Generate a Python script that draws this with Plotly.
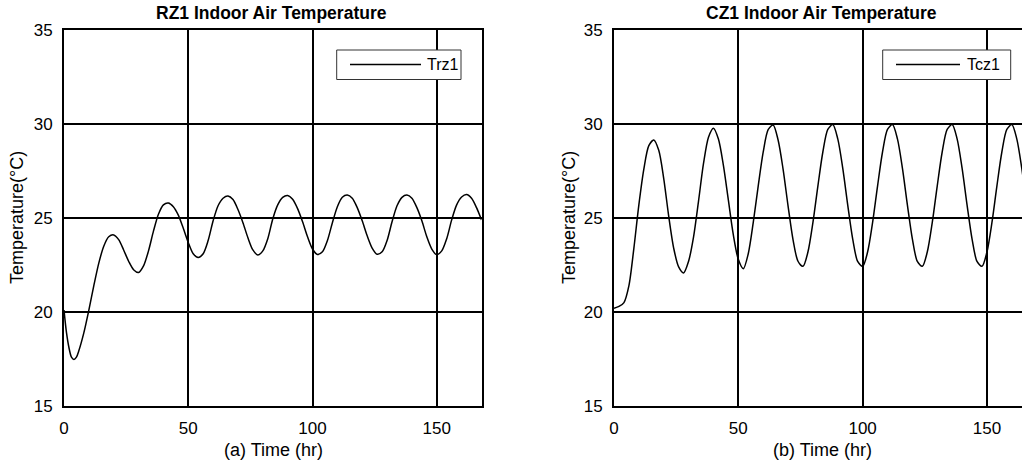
import plotly.graph_objects as go

# ---------------- data ----------------
time_rz = [0, 1, 2, 3, 4, 5, 6, 8, 10, 12, 14, 16, 18, 20, 22, 24, 26, 28, 30, 32,
           34, 36, 38, 40, 42, 44, 46, 48, 50, 52, 54, 56, 58, 60, 62, 64, 66, 68,
           70, 72, 74, 76, 78, 80, 82, 84, 86, 88, 90, 92, 94, 96, 98, 100, 102,
           104, 106, 108, 110, 112, 114, 116, 118, 120, 122, 124, 126, 128, 130,
           132, 134, 136, 138, 140, 142, 144, 146, 148, 150, 152, 154, 156, 158,
           160, 162, 164, 166, 168]
trz1 = [20.1, 18.9, 18.1, 17.6, 17.48, 17.6, 17.95, 18.9, 20.1, 21.4, 22.6, 23.5,
        24.0, 24.1, 23.85, 23.3, 22.7, 22.25, 22.1, 22.45, 23.25, 24.3, 25.2, 25.7,
        25.8, 25.6, 25.15, 24.45, 23.7, 23.1, 22.9, 23.1, 23.8, 24.85, 25.65, 26.05,
        26.17, 25.98, 25.45, 24.75, 23.95, 23.3, 23.03, 23.25, 23.9, 24.95, 25.7,
        26.1, 26.2, 26.0, 25.5, 24.8, 24.0, 23.35, 23.06, 23.2, 23.8, 24.75, 25.6,
        26.1, 26.22, 26.05, 25.55, 24.85, 24.05, 23.4, 23.07, 23.2, 23.8, 24.8,
        25.65, 26.1, 26.22, 26.05, 25.55, 24.85, 24.0, 23.35, 23.05, 23.25, 23.9,
        24.9, 25.7, 26.12, 26.25, 26.05, 25.55, 24.9]

time_cz = [0, 2, 4, 6, 8, 10, 12, 14, 16, 18, 20, 22, 24, 26, 28, 30, 32, 34, 36,
           38, 40, 42, 44, 46, 48, 50, 52, 54, 56, 58, 60, 62, 64, 66, 68, 70, 72,
           74, 76, 78, 80, 82, 84, 86, 88, 90, 92, 94, 96, 98, 100, 102, 104, 106,
           108, 110, 112, 114, 116, 118, 120, 122, 124, 126, 128, 130, 132, 134,
           136, 138, 140, 142, 144, 146, 148, 150, 152, 154, 156, 158, 160, 162,
           164, 166, 168]
tcz1 = [20.2, 20.3, 20.5, 21.4, 23.4, 25.7, 27.6, 28.85, 29.15, 28.6, 27.1, 25.1,
        23.4, 22.4, 22.08, 22.7, 24.0, 25.9, 27.9, 29.3, 29.78, 29.2, 27.8, 25.95,
        24.1, 22.8, 22.3, 23.1, 24.75, 26.7, 28.5, 29.7, 29.95, 29.15, 27.6, 25.65,
        23.85, 22.7, 22.43, 23.19, 24.75, 26.7, 28.51, 29.71, 29.97, 29.21, 27.65,
        25.7, 23.89, 22.69, 22.43, 23.19, 24.75, 26.7, 28.51, 29.71, 29.97, 29.21,
        27.65, 25.7, 23.89, 22.69, 22.43, 23.19, 24.75, 26.7, 28.51, 29.71, 29.97,
        29.21, 27.65, 25.7, 23.89, 22.69, 22.43, 23.19, 24.75, 26.7, 28.51, 29.71,
        29.97, 29.21, 27.65, 25.7, 23.89]

x_ticks = [0, 50, 100, 150]
y_ticks = [15, 20, 25, 30, 35]
titles = ["RZ1 Indoor Air Temperature", "CZ1 Indoor Air Temperature"]
x_titles = ["(a) Time (hr)", "(b) Time (hr)"]
y_title = "Temperature(°C)"
legend_names = ["Trz1", "Tcz1"]

# ---------------- figure ----------------
W, H = 1022, 463
FONT = "Arial, 'Liberation Sans', sans-serif"


def px(x):
    return x / W


def py(y):
    return 1 - y / H


fig = go.Figure()
line_style = dict(color="black", width=1.5, shape="spline", smoothing=0.8)
fig.add_trace(go.Scatter(x=time_rz, y=trz1, mode="lines", line=line_style,
                         name=legend_names[0], xaxis="x", yaxis="y", showlegend=False))
fig.add_trace(go.Scatter(x=time_cz, y=tcz1, mode="lines", line=line_style,
                         name=legend_names[1], xaxis="x2", yaxis="y2", showlegend=False))

common = dict(showline=True, linecolor="black", linewidth=2, showgrid=True,
              gridcolor="black", gridwidth=1.5, zeroline=False, ticks="",
              automargin=False, ticklabelstandoff=6,
              tickfont=dict(size=17, color="black", family=FONT))

ydom = [py(406), py(30)]
fig.update_layout(
    width=W, height=H, autosize=False,
    margin=dict(l=0, r=0, t=0, b=0, pad=0, autoexpand=False),
    paper_bgcolor="white", plot_bgcolor="white",
    font=dict(family=FONT, color="black"),
    xaxis=dict(domain=[px(64), px(481.5)], range=[0, 168], tickvals=x_ticks,
               mirror=True, anchor="y", **common),
    yaxis=dict(domain=ydom, range=[15, 35], tickvals=y_ticks, mirror=True,
               anchor="x", **common),
    xaxis2=dict(domain=[px(614), 1.0], range=[0, 164.1], tickvals=x_ticks,
                mirror=True, anchor="y2", **common),
    yaxis2=dict(domain=ydom, range=[15, 35], tickvals=y_ticks, mirror=False,
                anchor="x2", **common),
    showlegend=False,
)

annotations = []
shapes = []
panels = [
    dict(title_x=271.5, xt_x=273, yt_x=17, leg=(336.7, 461, 350, 421, 425)),
    dict(title_x=821.5, xt_x=822, yt_x=569, leg=(882.7, 1010.7, 896, 960, 965)),
]
for i, p in enumerate(panels):
    annotations.append(dict(text="<b>%s</b>" % titles[i], x=px(p["title_x"]), y=py(13),
                            xref="paper", yref="paper", xanchor="center", yanchor="middle",
                            showarrow=False, font=dict(size=17.5, color="black", family=FONT)))
    annotations.append(dict(text=x_titles[i], x=px(p["xt_x"]), y=py(450),
                            xref="paper", yref="paper", xanchor="center", yanchor="middle",
                            showarrow=False, font=dict(size=18, color="black", family=FONT)))
    annotations.append(dict(text=y_title, x=px(p["yt_x"]), y=py(218), textangle=-90,
                            xref="paper", yref="paper", xanchor="center", yanchor="middle",
                            showarrow=False, font=dict(size=18, color="black", family=FONT)))
    bx0, bx1, lx0, lx1, tx = p["leg"]
    shapes.append(dict(type="rect", xref="paper", yref="paper", x0=px(bx0), x1=px(bx1),
                       y0=py(79.5), y1=py(50), line=dict(color="#333333", width=1),
                       fillcolor="white", layer="above"))
    shapes.append(dict(type="line", xref="paper", yref="paper", x0=px(lx0), x1=px(lx1),
                       y0=py(64.5), y1=py(64.5), line=dict(color="black", width=1.5),
                       layer="above"))
    annotations.append(dict(text=legend_names[i], x=px(tx), y=py(64.5),
                            xref="paper", yref="paper", xanchor="left", yanchor="middle",
                            showarrow=False, font=dict(size=16, color="black", family=FONT)))

fig.update_layout(annotations=annotations, shapes=shapes)
# remove the default page margin so the 1022x463 figure fills the window exactly
fig.write_html("out.html",
               config={"displayModeBar": False},
               post_script="document.body.style.margin='0';document.body.style.overflow='hidden';")
